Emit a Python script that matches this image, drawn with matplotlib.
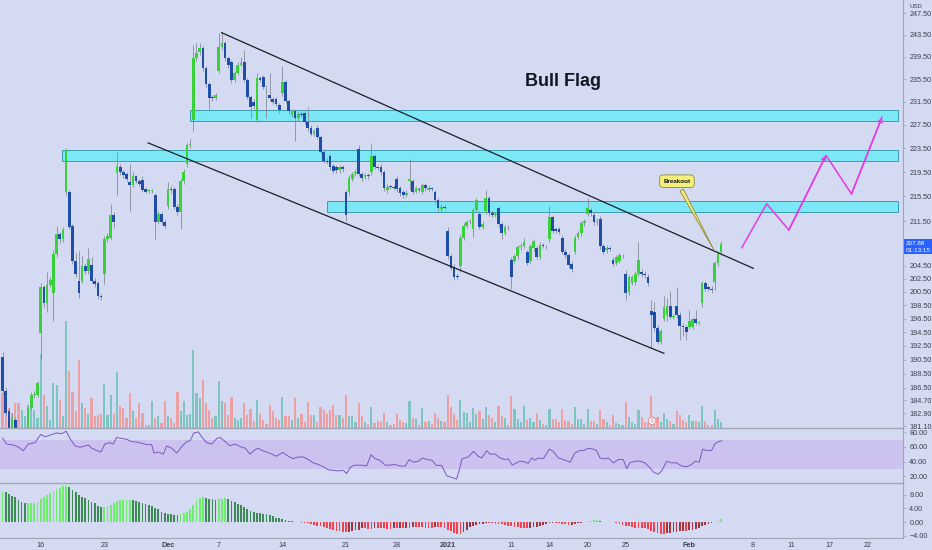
import matplotlib
matplotlib.use("Agg")
import matplotlib.pyplot as plt
import matplotlib.ticker as mticker
from matplotlib.patches import Rectangle
import numpy as np

plt.rcParams['font.family'] = ['Liberation Sans', 'DejaVu Sans']

# ---- 2h candles, Nov 12 2020 -> Feb 3 2021 (bar index = position) ----
opens = [
    190.8, 186.0, 183.2, 180.8, 182.0, 180.2, 179.5, 180.0, 180.8, 183.7, 185.4, 185.5,
    194.4, 201.2, 198.8, 201.6, 200.3, 206.3, 209.4, 208.6, 216.2, 216.2, 210.7, 205.2,
    202.2, 202.2, 204.4, 203.7, 204.6, 202.2, 201.8, 199.8, 203.3, 208.7, 208.9, 212.5,
    219.4, 220.3, 219.5, 219.2, 217.8, 217.3, 218.8, 218.0, 218.2, 216.7, 216.4, 216.4,
    215.7, 211.4, 212.7, 211.4, 214.0, 216.7, 216.7, 213.8, 213.0, 218.0, 220.8, 224.0,
    228.3, 239.2, 240.3, 241.0, 237.4, 234.7, 232.3, 232.1, 236.9, 241.3, 242.0, 239.3,
    238.6, 235.3, 236.6, 238.1, 238.6, 235.3, 232.3, 231.5, 228.3, 235.7, 235.9, 234.1,
    232.7, 232.0, 232.0, 230.9, 233.1, 235.0, 231.6, 229.2, 229.8, 228.6, 229.4, 229.5,
    228.0, 227.0, 226.0, 227.0, 225.4, 222.9, 221.4, 222.2, 220.5, 220.3, 219.8, 220.3,
    216.3, 216.2, 218.4, 219.3, 223.3, 219.2, 218.7, 219.0, 219.5, 222.2, 220.4, 220.4,
    219.5, 216.5, 217.1, 217.0, 218.3, 216.8, 216.2, 215.7, 218.0, 218.0, 216.3, 216.7,
    216.3, 217.3, 216.6, 216.8, 216.2, 214.9, 213.4, 213.8, 210.0, 206.0, 204.3, 202.9,
    204.4, 208.9, 210.8, 211.3, 210.3, 213.3, 212.7, 210.6, 213.1, 215.2, 212.8, 212.5,
    213.6, 211.0, 209.7, 210.5, 205.4, 205.3, 206.0, 207.4, 207.6, 206.6, 205.2, 207.2,
    207.2, 205.9, 207.8, 207.5, 208.6, 212.1, 210.2, 210.2, 208.9, 206.7, 206.1, 204.8,
    206.7, 209.0, 209.6, 211.2, 212.7, 213.3, 212.5, 211.3, 211.9, 207.5, 206.9, 207.2,
    205.4, 205.0, 205.3, 206.1, 203.3, 200.5, 201.9, 202.0, 203.3, 203.6, 203.3, 202.8,
    197.6, 197.4, 195.1, 193.1, 196.5, 197.0, 198.4, 196.8, 198.4, 197.0, 195.4, 195.2,
    195.3, 195.3, 196.5, 195.8, 198.8, 201.8, 201.2, 201.0, 202.0, 204.9, 206.6,
]
highs = [
    191.6, 186.6, 183.7, 182.9, 182.4, 180.6, 180.4, 181.2, 184.0, 185.9, 186.0, 187.5,
    201.8, 201.6, 203.5, 202.8, 206.9, 210.8, 209.8, 210.6, 223.5, 216.6, 211.0, 206.5,
    206.8, 206.0, 205.0, 207.3, 205.8, 202.6, 202.2, 200.2, 209.2, 209.6, 214.2, 212.9,
    222.8, 220.8, 219.9, 219.6, 220.8, 219.6, 219.1, 218.4, 218.8, 217.0, 216.7, 216.7,
    216.0, 213.2, 213.0, 211.7, 217.9, 217.2, 217.0, 214.2, 218.3, 220.0, 224.4, 225.1,
    241.6, 242.0, 242.0, 241.5, 237.8, 235.0, 232.7, 233.0, 243.8, 244.1, 242.3, 239.6,
    239.0, 237.0, 238.6, 239.5, 240.8, 235.7, 232.7, 232.0, 236.5, 236.1, 236.3, 234.5,
    236.5, 232.4, 232.3, 231.3, 237.8, 235.3, 232.0, 230.2, 230.2, 229.8, 229.8, 229.9,
    230.6, 227.4, 226.8, 227.4, 225.8, 223.3, 221.8, 222.6, 220.9, 220.7, 220.7, 220.6,
    216.6, 219.0, 219.6, 220.0, 224.1, 219.6, 219.4, 219.3, 224.4, 222.6, 220.7, 220.8,
    219.9, 217.5, 217.4, 217.3, 218.8, 217.2, 216.6, 216.5, 221.7, 218.4, 217.2, 217.0,
    217.7, 217.7, 217.3, 217.1, 216.6, 215.3, 214.2, 214.1, 210.6, 206.4, 204.7, 203.3,
    209.3, 211.2, 211.7, 211.8, 213.7, 215.3, 213.1, 211.5, 216.5, 215.6, 213.2, 212.9,
    214.0, 211.4, 210.9, 210.9, 205.8, 206.4, 207.8, 208.0, 208.8, 207.0, 207.9, 208.7,
    207.6, 208.2, 208.1, 207.8, 214.0, 212.5, 210.5, 210.6, 209.3, 207.1, 206.5, 205.2,
    209.3, 210.0, 211.6, 211.9, 215.3, 213.7, 212.9, 212.0, 212.3, 207.9, 207.7, 207.5,
    205.8, 206.2, 206.5, 206.4, 203.8, 203.1, 203.1, 203.7, 208.2, 204.0, 203.7, 203.2,
    199.2, 199.0, 195.5, 195.0, 199.9, 199.6, 200.7, 197.2, 201.3, 197.4, 195.8, 195.6,
    197.8, 196.8, 197.8, 196.1, 202.2, 202.2, 201.6, 201.4, 205.3, 206.8, 208.3,
]
lows = [
    185.6, 182.6, 180.0, 180.3, 179.8, 179.0, 179.0, 179.6, 180.5, 183.4, 185.0, 185.2,
    190.6, 198.2, 197.5, 201.2, 196.1, 205.8, 208.0, 208.2, 215.8, 210.2, 204.8, 202.8,
    199.6, 201.8, 203.2, 203.3, 201.8, 201.3, 199.4, 199.2, 201.7, 208.2, 208.5, 210.4,
    215.8, 219.0, 218.6, 218.0, 213.2, 217.0, 217.7, 217.2, 216.2, 216.0, 216.1, 216.0,
    208.6, 211.0, 211.0, 210.4, 213.5, 216.0, 213.4, 212.5, 210.3, 217.6, 220.4, 223.6,
    226.4, 238.8, 239.8, 237.0, 234.0, 230.3, 231.7, 231.8, 236.5, 240.8, 238.8, 237.5,
    234.8, 235.0, 236.2, 237.8, 235.0, 231.9, 228.6, 230.3, 228.0, 235.0, 233.7, 228.6,
    231.7, 231.1, 230.7, 229.6, 232.5, 231.2, 229.4, 228.8, 224.8, 228.2, 228.8, 227.6,
    226.5, 225.6, 225.6, 225.0, 222.5, 221.0, 220.8, 219.9, 219.3, 219.4, 219.4, 219.6,
    211.6, 215.8, 218.0, 218.9, 218.8, 218.1, 218.3, 218.4, 219.0, 220.0, 219.8, 219.1,
    216.4, 216.1, 216.7, 216.5, 216.3, 215.6, 215.3, 215.4, 216.5, 215.9, 216.0, 216.3,
    215.9, 216.4, 216.2, 216.4, 214.5, 213.2, 213.0, 213.4, 205.6, 203.8, 202.3, 202.4,
    203.6, 208.5, 210.4, 211.0, 209.0, 213.0, 210.2, 210.2, 212.7, 212.4, 212.1, 212.2,
    210.6, 208.7, 209.3, 210.1, 201.0, 204.9, 205.6, 207.0, 207.2, 204.6, 204.8, 206.8,
    205.5, 205.5, 207.2, 207.1, 208.2, 209.6, 209.7, 209.4, 206.3, 205.7, 204.2, 203.6,
    206.3, 208.6, 209.2, 210.8, 212.3, 212.4, 210.9, 210.9, 207.1, 206.3, 206.5, 206.8,
    204.4, 204.6, 204.9, 205.7, 199.2, 200.1, 201.5, 201.6, 202.9, 202.8, 202.6, 201.4,
    192.2, 194.7, 192.7, 192.7, 196.1, 196.2, 196.4, 196.5, 196.6, 193.3, 193.9, 193.4,
    194.9, 194.9, 195.5, 195.5, 198.2, 200.6, 200.6, 200.4, 200.8, 204.5, 206.2,
]
closes = [
    186.0, 183.0, 180.5, 182.2, 180.2, 179.5, 180.0, 180.8, 183.7, 185.4, 185.6, 187.1,
    201.2, 198.8, 201.6, 202.3, 206.4, 209.4, 208.6, 210.1, 223.2, 210.6, 205.2, 203.3,
    200.3, 204.4, 203.7, 205.6, 202.2, 201.7, 199.8, 199.7, 208.7, 209.1, 212.5, 211.4,
    220.5, 219.5, 219.0, 218.4, 217.4, 218.8, 218.0, 217.5, 216.6, 216.3, 216.4, 216.4,
    211.4, 212.7, 211.4, 210.8, 216.7, 216.5, 213.8, 212.9, 218.0, 219.5, 224.0, 224.1,
    239.2, 240.2, 241.1, 237.4, 234.7, 232.1, 232.1, 232.7, 241.3, 242.0, 239.3, 238.1,
    235.3, 236.6, 238.1, 238.4, 235.3, 232.3, 230.6, 230.8, 235.7, 235.4, 234.1, 234.0,
    232.1, 231.5, 231.1, 230.0, 235.0, 231.6, 229.8, 229.8, 228.6, 229.4, 229.2, 228.0,
    226.9, 226.0, 226.4, 225.4, 222.9, 221.4, 221.2, 220.3, 219.7, 219.8, 220.3, 220.0,
    212.5, 218.5, 219.2, 219.6, 219.2, 218.5, 219.0, 218.8, 222.2, 220.4, 220.1, 219.5,
    216.8, 217.1, 217.0, 216.8, 216.7, 216.0, 215.7, 216.1, 218.4, 216.3, 216.8, 216.6,
    217.3, 216.8, 216.9, 216.7, 214.9, 213.6, 213.8, 213.7, 206.0, 204.2, 202.8, 202.8,
    208.9, 210.8, 211.3, 211.5, 213.3, 214.9, 210.6, 211.1, 215.2, 212.8, 212.5, 212.6,
    211.0, 209.7, 210.5, 210.5, 202.8, 206.0, 207.4, 207.6, 208.2, 205.0, 207.5, 208.3,
    205.9, 207.8, 207.5, 207.5, 212.2, 210.0, 210.0, 209.8, 206.7, 206.1, 204.6, 204.0,
    208.9, 209.6, 211.2, 211.5, 213.7, 212.8, 211.3, 211.6, 207.5, 206.7, 207.3, 207.1,
    204.8, 205.8, 206.1, 206.1, 200.3, 202.7, 202.7, 203.3, 205.4, 203.2, 203.0, 201.8,
    197.0, 195.1, 193.1, 194.6, 198.2, 198.3, 196.8, 196.9, 197.0, 195.4, 195.2, 194.5,
    196.2, 196.4, 195.9, 195.8, 201.8, 201.0, 201.0, 200.8, 204.9, 206.4, 207.9,
]
volume_100k = [
    35, 30, 20, 15, 25, 25, 18, 12, 23, 28, 18, 10,
    74, 33, 22, 8, 45, 43, 28, 12, 107, 57, 36, 17,
    68, 25, 20, 14, 30, 12, 13, 14, 44, 13, 33, 14,
    56, 22, 20, 10, 35, 17, 10, 25, 15, 3, 3, 27,
    10, 12, 5, 27, 12, 10, 5, 36, 17, 27, 13, 14,
    78, 35, 30, 48, 25, 18, 10, 12, 47, 27, 25, 13,
    31, 10, 8, 10, 25, 13, 19, 7, 28, 14, 8, 4,
    23, 17, 10, 8, 31, 12, 12, 8, 30, 10, 14, 6,
    26, 13, 13, 6, 21, 18, 14, 18, 23, 13, 13, 10,
    33, 12, 12, 6, 25, 12, 6, 4, 21, 5, 7, 6,
    15, 6, 3, 4, 14, 8, 6, 5, 27, 10, 9, 3,
    20, 6, 7, 4, 15, 10, 7, 6, 33, 21, 14, 8,
    28, 16, 15, 6, 20, 14, 17, 9, 21, 13, 10, 6,
    22, 12, 10, 3, 32, 19, 9, 6, 22, 8, 10, 6,
    15, 8, 4, 3, 19, 9, 9, 6, 19, 8, 7, 4,
    21, 9, 9, 4, 19, 7, 7, 4, 18, 9, 6, 3,
    13, 5, 4, 3, 26, 11, 6, 4, 18, 11, 6, 6,
    32, 11, 11, 6, 15, 9, 7, 4, 17, 13, 8, 6,
    13, 7, 7, 6, 22, 7, 3, 3, 18, 9, 6,
]
macd_hist = [
    9.2, 8.8, 8.3, 7.8, 7.3, 6.5, 6.0, 5.5, 5.5, 5.5,
    5.6, 5.9, 6.7, 7.4, 8.0, 8.6, 9.1, 9.6, 10.1, 10.5,
    10.6, 10.2, 9.5, 8.8, 8.1, 7.4, 7.0, 6.5, 6.0, 5.5,
    4.8, 4.4, 4.4, 4.6, 5.1, 5.5, 6.1, 6.4, 6.5, 6.5,
    6.5, 6.4, 6.2, 6.0, 5.7, 5.4, 5.1, 4.7, 4.2, 3.7,
    3.0, 2.7, 2.5, 2.4, 2.2, 2.1, 2.3, 2.6, 3.0, 3.8,
    5.1, 6.4, 7.1, 7.3, 7.1, 6.9, 6.7, 6.5, 6.7, 6.9,
    7.0, 6.7, 6.2, 5.8, 5.4, 5.1, 4.5, 3.9, 3.4, 3.1,
    2.8, 2.6, 2.4, 2.3, 2.0, 1.7, 1.3, 1.1, 0.9, 0.7,
    0.4, 0.2, 0.0, -0.1, -0.2, -0.3, -0.4, -0.6, -0.8, -1.1,
    -1.3, -1.5, -1.8, -2.0, -2.3, -2.5, -2.7, -2.9, -3.0, -2.8,
    -2.6, -2.4, -2.2, -1.9, -1.9, -2.0, -2.0, -1.9, -1.9, -1.9,
    -1.9, -2.0, -2.0, -1.9, -1.9, -1.8, -1.8, -1.7, -1.7, -1.6,
    -1.6, -1.6, -1.6, -1.7, -1.7, -1.7, -1.6, -1.6, -1.6, -1.8,
    -2.3, -2.7, -3.1, -3.4, -3.4, -2.8, -2.2, -1.6, -1.2, -0.9,
    -0.7, -0.5, -0.4, -0.4, -0.4, -0.5, -0.6, -0.7, -0.9, -1.1,
    -1.3, -1.5, -1.6, -1.7, -1.8, -1.8, -1.7, -1.6, -1.4, -1.2,
    -1.0, -0.7, -0.4, -0.3, -0.3, -0.4, -0.5, -0.7, -0.9, -0.8,
    -0.7, -0.4, -0.2, 0.0, 0.2, 0.3, 0.5, 0.5, 0.3, 0.1,
    0.0, 0.0, -0.1, -0.3, -0.5, -0.8, -1.1, -1.3, -1.5, -1.7,
    -1.7, -1.7, -1.8, -2.1, -2.6, -2.9, -3.2, -3.4, -3.5, -3.3,
    -3.1, -2.9, -2.8, -2.6, -2.5, -2.5, -2.4, -2.2, -2.0, -1.7,
    -1.3, -1.0, -0.7, -0.4, 0.0, 0.4, 1.0,
]
rsi_idx = [
    0, 1.3, 3.4, 5.0, 6.5, 8.1, 10.2, 12.0, 13.4, 14.9,
    17.0, 18.6, 20.0, 21.2, 22.8, 24.4, 25.9, 27.0, 28.0, 29.6,
    30.9, 32.2, 33.8, 34.8, 35.9, 37.5, 39.1, 40.6, 42.2, 43.8,
    45.3, 46.9, 47.6, 49.0, 50.6, 51.6, 53.2, 54.8, 56.4, 57.9,
    59.0, 60.2, 61.6, 62.6, 64.2, 65.8, 67.4, 68.4, 69.7, 71.5,
    73.1, 74.7, 76.3, 77.8, 79.4, 80.4, 81.5, 83.1, 84.7, 86.2,
    88.1, 89.9, 91.4, 93.0, 94.6, 96.2, 97.7, 99.3, 100.9, 102.5,
    104.0, 105.6, 107.2, 108.2, 109.3, 110.3, 111.9, 113.5, 114.5, 115.9,
    117.1, 118.7, 120.3, 121.9, 123.4, 125.0, 126.6, 127.9, 129.2, 130.8,
    132.1, 133.4, 135.0, 136.5, 138.1, 139.7, 141.3, 142.8, 143.6, 144.5,
    146.5, 148.1, 149.6, 150.7, 152.3, 153.3, 154.9, 156.4, 158.0, 159.1,
    160.3, 161.7, 162.7, 164.3, 165.3, 166.4, 167.5, 168.5, 170.1, 172.0,
    173.2, 174.8, 176.4, 178.5, 180.0, 181.6, 182.9, 184.2, 185.8, 186.8,
    187.9, 189.5, 190.5, 192.1, 193.7, 195.2, 196.3, 197.3, 198.9, 200.5,
    202.0, 203.6, 204.7, 206.2, 207.3, 208.9, 210.4, 212.0, 213.6, 215.2,
    216.7, 217.8, 219.1, 220.2, 221.4, 223.0, 224.0, 225.1, 226.2,
]
rsi_val = [
    72.0, 64.0, 62.7, 59.6, 54.8, 64.0, 65.8, 77.0, 73.8, 76.0,
    79.0, 78.0, 81.4, 71.6, 61.4, 59.6, 61.4, 62.7, 58.3, 55.2,
    53.0, 64.0, 65.8, 64.0, 72.9, 71.6, 70.3, 67.2, 66.7, 65.0,
    63.2, 63.2, 51.6, 53.0, 50.3, 61.4, 58.3, 51.6, 60.5, 67.2,
    68.5, 79.1, 80.5, 73.8, 65.8, 64.0, 71.6, 72.9, 68.5, 61.4,
    64.0, 60.5, 58.3, 50.3, 56.1, 58.3, 55.2, 53.0, 50.3, 47.2,
    52.5, 47.2, 44.1, 46.3, 46.3, 42.8, 38.3, 36.1, 33.0, 28.6,
    28.1, 27.3, 28.1, 23.7, 31.7, 34.8, 35.2, 34.8, 33.9, 49.4,
    44.1, 41.9, 35.2, 35.2, 36.1, 33.9, 33.9, 42.8, 39.2, 40.6,
    45.0, 42.8, 41.9, 34.8, 34.8, 20.6, 18.4, 16.2, 28.0, 43.7,
    46.3, 53.9, 47.2, 45.0, 54.8, 50.3, 50.3, 45.0, 42.8, 43.7,
    35.2, 38.3, 40.6, 39.7, 37.5, 45.0, 41.9, 45.0, 44.1, 57.0,
    53.9, 45.0, 42.8, 39.2, 51.6, 55.2, 55.2, 58.3, 57.0, 55.2,
    45.0, 43.7, 45.0, 38.3, 42.8, 42.8, 30.4, 38.3, 40.6, 40.6,
    38.3, 31.7, 25.9, 22.8, 27.3, 40.6, 38.3, 38.3, 33.9, 33.0,
    36.1, 40.6, 39.2, 57.0, 55.2, 55.2, 64.0, 67.2, 68.5,
]

# time axis labels (bar index of first bar of that day)
tick_idx = [12, 32, 52, 68, 88, 108, 124, 140, 160, 172, 184, 196, 216, 236, 248, 260, 272]
tick_labels = ["16", "23", "Dec", "7", "14", "21", "28", "2021", "11", "14", "20", "25",
               "Feb", "8", "11", "17", "22"]
price_ticks = [247.5, 243.5, 239.5, 235.5, 231.5, 227.5, 223.5, 219.5, 215.5, 211.5,
               204.5, 202.5, 200.5, 198.5, 196.5, 194.5, 192.5, 190.5, 188.5, 186.5,
               184.7, 182.9, 181.1]

# drawings: (bar index, price)
upper_channel = ([68.9, 236.1], [243.9, 204.1])
lower_channel = ([45.8, 208.0], [224.4, 191.4])
zones = [  # start idx, end idx, low, high
    (59.0, 281.6, 228.2, 230.0),
    (18.8, 281.6, 221.4, 223.2),
    (102.1, 281.6, 213.0, 214.8),
]
path_idx = [232.5, 240.3, 247.3, 259.0, 267.0, 276.6]
path_price = [207.3, 214.3, 210.1, 222.3, 215.9, 228.8]
last_price = 207.88

BG = "#d3daf1"
UP = "#38d238"
DOWN = "#1f4ea8"
WICK = "#878c9c"
VOL_UP = "#7ec4c0"
VOL_DN = "#ee9fa2"
ZONE = "#7de8f5"
ZONE_EDGE = "#3c9db0"
AXIS_LINE = "#a0a5b8"
TXT = "#3d414d"
MAGENTA = "#e23de2"

W, H = 932, 550


def rect(x0, y0, x1, y1):
    return [x0 / W, 1 - y1 / H, (x1 - x0) / W, (y1 - y0) / H]


fig = plt.figure(figsize=(W / 100, H / 100), dpi=100, facecolor=BG)
ax_vol = fig.add_axes(rect(0, 0, 903, 427.5), facecolor=BG)
ax = fig.add_axes(rect(0, 0, 903, 427.5), sharex=ax_vol, facecolor="none")
ax_rsi = fig.add_axes(rect(0, 427.5, 903, 483), sharex=ax_vol, facecolor=BG)
ax_macd = fig.add_axes(rect(0, 483, 903, 538), sharex=ax_vol, facecolor=BG)

idx = np.arange(len(closes))
o = np.array(opens)
c = np.array(closes)
up = c >= o

# volume overlay
ax_vol.bar(idx, volume_100k, width=0.68, color=np.where(up, VOL_UP, VOL_DN), linewidth=0)
ax_vol.set_ylim(0, max(volume_100k) * 4.0)
ax_vol.set_yticks([])

# zones below the candles
ax.set_yscale("log")
for x0, x1, lo, hi in zones:
    ax.add_patch(Rectangle((x0, lo), x1 - x0, hi - lo, fc=ZONE, ec=ZONE_EDGE,
                           lw=0.7, zorder=1))

# candles
ax.vlines(idx, lows, highs, color=WICK, lw=0.6, zorder=2)
body_lo = np.minimum(o, c)
body_h = np.maximum(np.abs(c - o), 0.14)
ax.bar(idx, body_h, bottom=body_lo, width=0.85, color=np.where(up, UP, DOWN),
       linewidth=0, zorder=3)

ax.plot(*upper_channel, color="#1b1e27", lw=0.9, zorder=5)
ax.plot(*lower_channel, color="#1b1e27", lw=0.9, zorder=5)

ax.plot(path_idx, path_price, color=MAGENTA, lw=1.1, zorder=5)
for k in (3, 5):
    ax.annotate("", xy=(path_idx[k], path_price[k]),
                xytext=(path_idx[k - 1], path_price[k - 1]),
                arrowprops=dict(arrowstyle="->", color=MAGENTA, lw=1.1,
                                mutation_scale=7, shrinkA=0, shrinkB=0), zorder=5)

ax.text(176.3, 235.1, "Bull Flag", fontsize=13, fontweight="bold",
        ha="center", va="center", color="#131722", zorder=6)

ax.annotate("Breakout", xy=(224.1, 206.6), xytext=(212.1, 218.0),
            fontsize=4.5, fontweight="bold", ha="center", va="center", color="#131722",
            bbox=dict(boxstyle="round,pad=0.6", fc="#f3ef7a", ec="#8f8a35", lw=0.6),
            arrowprops=dict(arrowstyle="wedge,tail_width=0.6,shrink_factor=0.5",
                            fc="#f3ef7a", ec="#8f8a35", lw=0.6), zorder=7)

ax.text(204.3, 181.9, "C", fontsize=3.8, color="#e06a78", ha="center", va="center",
        bbox=dict(boxstyle="circle,pad=0.25", fc="#f4eef4", ec="#e0808c", lw=0.5), zorder=6)

ax.set_ylim(180.96, 250.0)
ax.set_yticks(price_ticks, labels=[f"{p:.2f}" for p in price_ticks])
ax.yaxis.set_minor_locator(mticker.NullLocator())
ax.yaxis.set_minor_formatter(mticker.NullFormatter())

ax.annotate(f"{last_price:.2f}\n01:13:15", xy=(1.0, last_price),
            xycoords=("axes fraction", "data"), xytext=(2.2, 2.5),
            textcoords="offset points", ha="left", va="top", fontsize=4.6,
            color="white", linespacing=1.5,
            bbox=dict(boxstyle="square,pad=0.3", fc="#2962ff", ec="none"),
            annotation_clip=False, zorder=8)

# RSI
ax_rsi.axhspan(30, 70, color="#cbc2ef", lw=0)
ax_rsi.plot(rsi_idx, rsi_val, color="#7e57c2", lw=0.7)
ax_rsi.set_ylim(10.8, 86.5)
ax_rsi.set_yticks([20, 40, 60, 80], labels=["20.00", "40.00", "60.00", "80.00"])

# MACD histogram
mh = np.array(macd_hist)
d = np.diff(mh, prepend=mh[0])
mcol = np.where(mh >= 0, np.where(d >= 0, "#6cf06c", "#3e8a55"),
                np.where(d <= 0, "#f2434f", "#a33442"))
ax_macd.bar(idx, mh, width=0.55, color=mcol, linewidth=0)
ax_macd.set_ylim(-4.7, 11.5)
ax_macd.set_yticks([-4, 0, 4, 8], labels=["\u22124.00", "0.00", "4.00", "8.00"])

ax_vol.set_xlim(-0.8, 283.2)
ax_macd.set_xticks(tick_idx, labels=tick_labels)
for lab in ax_macd.get_xticklabels():
    if lab.get_text() in ("Dec", "2021", "Feb"):
        lab.set_fontweight("bold")

for a in (ax_vol, ax, ax_rsi, ax_macd):
    for s in ("top", "left", "bottom", "right"):
        a.spines[s].set_visible(False)
    a.tick_params(axis="x", bottom=False, labelbottom=False)
    a.tick_params(axis="y", left=False, labelleft=False)

for a in (ax, ax_rsi, ax_macd):
    a.yaxis.tick_right()
    a.tick_params(axis="y", right=True, labelright=True, length=2.5, width=0.5,
                  color=AXIS_LINE, labelsize=5.2, labelcolor=TXT, pad=2)
    a.spines["right"].set_visible(True)
    a.spines["right"].set_color(AXIS_LINE)
    a.spines["right"].set_linewidth(0.8)

for a in (ax_rsi, ax_macd):
    a.spines["top"].set_visible(True)
    a.spines["top"].set_color(AXIS_LINE)
    a.spines["top"].set_linewidth(1.0)

ax_macd.spines["bottom"].set_visible(True)
ax_macd.spines["bottom"].set_color(AXIS_LINE)
ax_macd.tick_params(axis="x", bottom=True, labelbottom=True, length=0, pad=3,
                    labelsize=5.2, labelcolor=TXT)

fig.text(916 / W, 1 - 6 / H, "USD", fontsize=4.3, ha="center", va="center", color=TXT)

fig.savefig("out.png", dpi=100, facecolor=BG)
